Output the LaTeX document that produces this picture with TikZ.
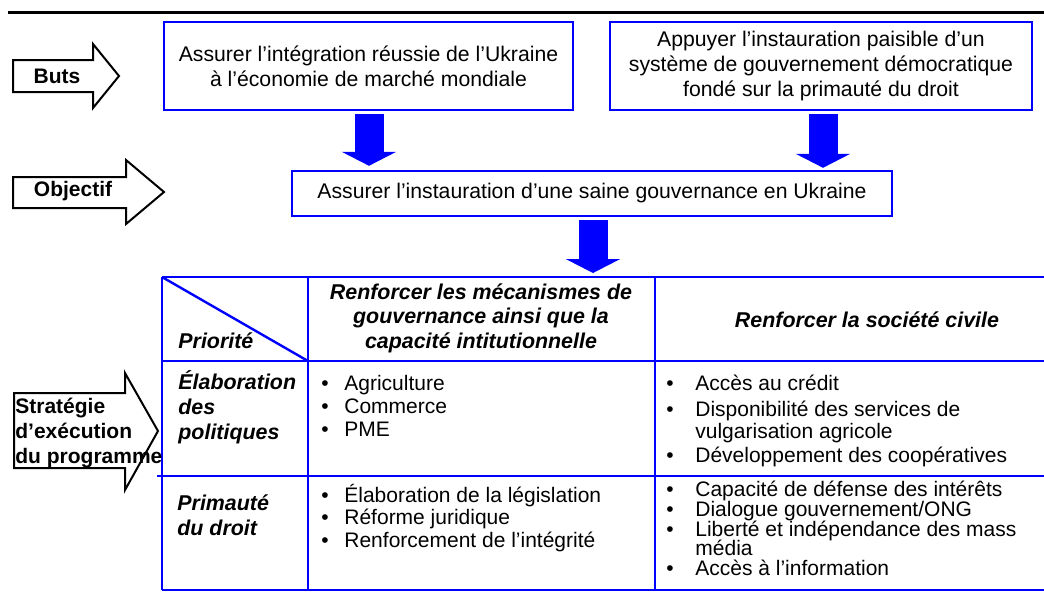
\documentclass[tikz,border=0pt]{standalone}
\usepackage{fontspec}
\setmainfont{Liberation Sans}
\usepackage{tikz}
\usetikzlibrary{arrows.meta,positioning,calc}
\definecolor{cadreBlue}{RGB}{0,0,255}
\newcommand{\puce}[1][11.5pt]{\makebox[#1][l]{\textbullet}}

\begin{document}
\lineskiplimit=-5pt
\begin{tikzpicture}[x=0.5pt,y=-0.5pt,
    box/.style={draw=cadreBlue,line width=1.2pt,align=center,inner sep=0pt,
                font=\fontsize{10.6}{12.5}\selectfont},
    tag/.style={font=\fontsize{10.5}{12.5}\selectfont\bfseries,inner sep=0pt},
    hdr/.style={font=\fontsize{10.7}{12.3}\selectfont\bfseries\itshape,
                inner sep=0pt,align=center},
    cell/.style={font=\fontsize{10.5}{11.5}\selectfont,
                 inner sep=0pt,align=left,anchor=base west},
    fatarrow/.style={cadreBlue,line width=14.5pt,-{Triangle[length=7pt,width=27pt]}},
    flecheNoire/.style={draw=black,line width=1pt,fill=white},
    tabline/.style={cadreBlue,line width=1.2pt}]

    \useasboundingbox (0,0) rectangle (1044,596);

    % top rule
    \draw[line width=1.5pt] (8,12) -- (1044,12);

    % left arrows
    \draw[flecheNoire] (13,60) -- (93,60) -- (93,44) -- (119,76) -- (93,108)
      -- (93,92) -- (13,92) -- cycle;
    \node[tag] (buts) at (57,76) {Buts};
    \draw[flecheNoire] (13,177) -- (126,177) -- (126,160) -- (164,192) -- (126,224)
      -- (126,208) -- (13,208) -- cycle;
    \node[tag] (objectif) at (73,191) {Objectif};
    \draw[flecheNoire] (14,393) -- (125,393) -- (125,373) -- (158,431) -- (125,490)
      -- (125,468) -- (14,468) -- cycle;

    % goals and objective
    \node[box,minimum width=204.5pt,minimum height=44pt] (but1) at (368.5,66)
      {Assurer l’intégration réussie de l’Ukraine\\à l’économie de marché mondiale};
    \node[box,minimum width=211pt,minimum height=44pt] (but2) at (821,66)
      {Appuyer l’instauration paisible d’un\\système de gouvernement démocratique\\fondé sur la primauté du droit};
    \node[box,minimum width=300pt,minimum height=22.5pt] (obj) at (592,193.5)
      {Assurer l’instauration d’une saine gouvernance en Ukraine};

    % table
    \coordinate (xa) at (369,0);
    \coordinate (xb) at (823,0);
    \coordinate (tabtop) at (593,277);
    \foreach \y in {277,361,590} {
      \draw[tabline] (162,\y) -- (1044,\y);
    }
    \draw[tabline] (157,476) -- (1044,476);
    \foreach \x in {162,308,655} {
      \draw[tabline] (\x,277) -- (\x,590);
    }
    \draw[tabline] (162,277) -- (308,361);

    % blue arrows
    \draw[fatarrow] ($(but1.south -| xa)+(0,3)$) -- ($(obj.north -| xa)+(0,-4)$);
    \draw[fatarrow] ($(but2.south -| xb)+(0,3)$) -- ($(obj.north -| xb)+(0,-2)$);
    \draw[fatarrow] ($(obj.south -| tabtop)+(0,3)$) -- ($(tabtop)+(0,-4)$);

    % header
    \node[hdr,anchor=base west] (prio) at (178,348) {Priorité};
    \node[hdr] (axe1) at (481,318)
      {Renforcer les mécanismes de\\gouvernance ainsi que la\\capacité intitutionnelle};
    \node[hdr] (axe2) at (867,320) {Renforcer la société civile};

    % rows (base = last line)
    \node[hdr,align=left,anchor=base west] (pol) at (178,439)
      {Élaboration\\des\\politiques};
    \node[hdr,align=left,anchor=base west] (droit) at (177,535)
      {Primauté\\du droit};
    \node[cell] (r1c2) at (321,436)
      {\puce Agriculture\\\puce Commerce\\\puce PME};
    \node[cell,font=\fontsize{10.5}{11}\selectfont] (r1c3) at (666,462)
      {\puce[14.5pt]Accès au crédit\\[2pt]
       \puce[14.5pt]Disponibilité des services de\\
       \hspace*{14.5pt}vulgarisation agricole\\[1pt]
       \puce[14.5pt]Développement des coopératives};
    \node[cell,font=\fontsize{10.5}{11.25}\selectfont] (r2c2) at (321,547)
      {\puce Élaboration de la législation\\\puce Réforme juridique\\\puce Renforcement de l’intégrité};
    \node[cell,font=\fontsize{10.5}{10}\selectfont] (r2c3) at (666,575)
      {\puce[14.5pt]Capacité de défense des intérêts\\
       \puce[14.5pt]Dialogue gouvernement/ONG\\
       \puce[14.5pt]Liberté et indépendance des mass\\[-0.8pt]
       \hspace*{14.5pt}média\\
       \puce[14.5pt]Accès à l’information};

    % strategy label
    \node[tag,align=left,anchor=base west] (strat) at (15,463)
      {Stratégie\\d’exécution\\du programme};
  \end{tikzpicture}
\end{document}
